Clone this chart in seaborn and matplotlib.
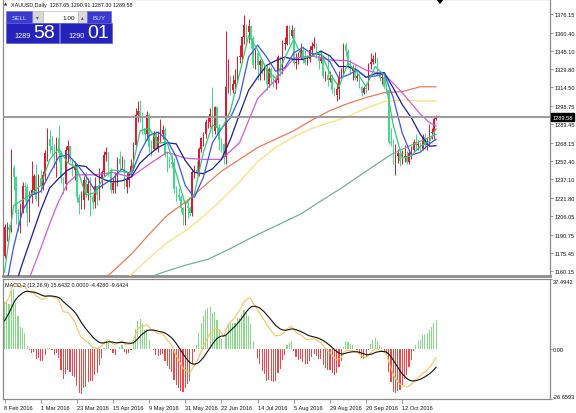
import matplotlib
matplotlib.use("Agg")
import matplotlib.pyplot as plt
import seaborn as sns
import numpy as np
import pandas as pd
from matplotlib.patches import Rectangle, Polygon

# ---------------- data ----------------
date_labels = ["8 Feb 2016", "1 Mar 2016", "23 Mar 2016", "15 Apr 2016", "9 May 2016", "31 May 2016",
               "22 Jun 2016", "14 Jul 2016", "5 Aug 2016", "29 Aug 2016", "20 Sep 2016", "12 Oct 2016"]
date_bars = [0, 16, 32, 48, 64, 80, 96, 112, 128, 144, 160, 176]

first_open = 1173.0
closes = [1197, 1197, 1195, 1247, 1239, 1209, 1208, 1211, 1232, 1231, 1209, 1223, 1228, 1240, 1221, 1238,
          1232, 1241, 1259, 1271, 1265, 1262, 1257, 1272, 1259, 1238, 1233, 1262, 1265, 1254, 1245, 1248,
          1222, 1217, 1220, 1237, 1226, 1233, 1222, 1218, 1232, 1224, 1238, 1243, 1258, 1260, 1245, 1228,
          1234, 1234, 1254, 1250, 1250, 1231, 1237, 1243, 1248, 1266, 1291, 1295, 1289, 1280, 1275, 1291,
          1264, 1263, 1276, 1263, 1273, 1275, 1279, 1258, 1254, 1252, 1250, 1229, 1224, 1222, 1213, 1207,
          1215, 1213, 1209, 1243, 1245, 1243, 1263, 1272, 1275, 1285, 1285, 1292, 1278, 1298, 1280, 1270,
          1267, 1256, 1315, 1324, 1312, 1317, 1321, 1340, 1340, 1357, 1367, 1361, 1366, 1356, 1333, 1343,
          1333, 1337, 1328, 1331, 1317, 1330, 1322, 1318, 1321, 1340, 1332, 1351, 1351, 1366, 1358, 1363,
          1335, 1336, 1340, 1346, 1338, 1335, 1338, 1346, 1349, 1351, 1341, 1337, 1340, 1324, 1325, 1321,
          1322, 1312, 1308, 1313, 1322, 1326, 1350, 1345, 1333, 1328, 1330, 1322, 1324, 1315, 1310, 1314,
          1313, 1334, 1336, 1338, 1338, 1325, 1322, 1323, 1315, 1312, 1269, 1268, 1253, 1257, 1259, 1253,
          1255, 1257, 1252, 1259, 1262, 1269, 1266, 1267, 1263, 1273, 1266, 1268, 1276, 1277, 1287.65, 1289.58]
highs = [1200, 1201, 1200, 1263, 1249, 1240, 1213, 1217, 1235, 1235, 1233, 1227, 1253, 1242, 1250, 1242,
         1245, 1244, 1262, 1280, 1279, 1274, 1267, 1273, 1283, 1261, 1239, 1265, 1270, 1265, 1254, 1253,
         1250, 1225, 1227, 1240, 1243, 1238, 1239, 1225, 1239, 1232, 1247, 1245, 1261, 1264, 1260, 1247,
         1238, 1243, 1256, 1261, 1257, 1254, 1243, 1244, 1254, 1269, 1297, 1303, 1304, 1294, 1280, 1295,
         1293, 1270, 1278, 1278, 1277, 1288, 1283, 1281, 1260, 1256, 1258, 1255, 1232, 1230, 1224, 1214,
         1218, 1219, 1215, 1246, 1249, 1253, 1264, 1273, 1277, 1288, 1290, 1297, 1315, 1299, 1299, 1284,
         1272, 1268, 1362, 1338, 1325, 1325, 1330, 1341, 1350, 1358, 1375, 1368, 1372, 1367, 1358, 1347,
         1345, 1338, 1338, 1334, 1333, 1332, 1332, 1326, 1323, 1342, 1341, 1354, 1357, 1367, 1367, 1367,
         1365, 1343, 1344, 1352, 1349, 1346, 1342, 1349, 1353, 1357, 1352, 1343, 1345, 1342, 1328, 1342,
         1328, 1326, 1315, 1318, 1328, 1331, 1352, 1352, 1347, 1338, 1333, 1333, 1327, 1327, 1316, 1316,
         1318, 1335, 1343, 1342, 1344, 1340, 1328, 1326, 1326, 1317, 1313, 1280, 1271, 1267, 1263, 1260,
         1262, 1266, 1261, 1262, 1265, 1271, 1275, 1270, 1269, 1275, 1276, 1273, 1284, 1280, 1290, 1290.91]
lows = [1171, 1185, 1186, 1193, 1228, 1200, 1194, 1192, 1209, 1219, 1198, 1201, 1217, 1225, 1219, 1215,
        1226, 1228, 1237, 1253, 1259, 1257, 1247, 1239, 1252, 1234, 1225, 1228, 1252, 1252, 1240, 1237,
        1218, 1208, 1212, 1212, 1222, 1220, 1206, 1212, 1213, 1216, 1220, 1230, 1240, 1253, 1240, 1226,
        1226, 1226, 1232, 1243, 1247, 1229, 1226, 1231, 1240, 1245, 1265, 1285, 1285, 1275, 1268, 1270,
        1260, 1257, 1263, 1262, 1260, 1268, 1271, 1256, 1243, 1247, 1247, 1226, 1219, 1220, 1210, 1199,
        1199, 1205, 1206, 1206, 1238, 1241, 1240, 1260, 1265, 1272, 1280, 1281, 1273, 1275, 1275, 1262,
        1260, 1250, 1250, 1310, 1308, 1310, 1310, 1320, 1335, 1337, 1351, 1352, 1352, 1348, 1331, 1330,
        1321, 1321, 1326, 1321, 1312, 1315, 1318, 1315, 1313, 1318, 1324, 1326, 1346, 1350, 1351, 1356,
        1333, 1330, 1334, 1338, 1335, 1333, 1333, 1336, 1342, 1348, 1339, 1330, 1335, 1322, 1320, 1316,
        1319, 1310, 1307, 1303, 1305, 1322, 1324, 1341, 1331, 1326, 1321, 1321, 1320, 1314, 1307, 1309,
        1310, 1312, 1330, 1334, 1335, 1325, 1320, 1317, 1313, 1310, 1267, 1265, 1250, 1241, 1251, 1248,
        1250, 1252, 1250, 1250, 1254, 1260, 1262, 1262, 1261, 1262, 1263, 1262, 1266, 1271, 1271, 1287.30]

# moving averages read at sample bars
ma5_bars = list(range(0, 189, 4)) + [191]
ma5 = [1159, 1215, 1220, 1225, 1232, 1254, 1263, 1251, 1247, 1224, 1226, 1239, 1245, 1244, 1242, 1278,
       1280, 1268, 1268, 1242, 1216, 1225, 1260, 1283, 1279, 1295, 1326, 1358, 1346, 1329, 1322, 1339,
       1355, 1339, 1341, 1344, 1326, 1315, 1335, 1327, 1315, 1332, 1325, 1283, 1255, 1257, 1265, 1269, 1280]
ma10 = [1140, 1180, 1211, 1224, 1227, 1242, 1256, 1258, 1250, 1240, 1228, 1233, 1238, 1246, 1241, 1260,
        1274, 1277, 1270, 1256, 1232, 1222, 1239, 1268, 1280, 1289, 1306, 1340, 1350, 1340, 1328, 1331,
        1343.5, 1348, 1343, 1342, 1336, 1322, 1325, 1329, 1323, 1324, 1326, 1306, 1276, 1257.5, 1260, 1267, 1271]
ma20 = [1116, 1143, 1167, 1189, 1211, 1230, 1238, 1245, 1249, 1248, 1241, 1237, 1235, 1236, 1239, 1251,
        1258, 1264, 1268, 1267, 1253, 1243, 1242, 1246, 1254, 1271, 1292, 1312, 1323, 1333, 1337, 1340,
        1338, 1338, 1341, 1345, 1341, 1332, 1332, 1329, 1323, 1326, 1327, 1314, 1300, 1289, 1275, 1265, 1265.5]
ma30_bars = [10, 12, 16, 20, 24, 28, 32, 40, 48, 56, 64, 72, 80, 88, 96, 104, 112, 120, 128, 136, 144,
             152, 160, 168, 172, 176, 180, 184, 188, 191]
ma30 = [1150, 1159, 1179, 1200, 1219, 1234, 1241, 1241, 1243, 1239, 1250, 1260, 1255, 1254, 1254, 1268,
        1305, 1321, 1339, 1341, 1337.5, 1337, 1329, 1325.5, 1318, 1310, 1301, 1292, 1285, 1282]
ma100_bars = [40, 48, 56, 64, 72, 80, 88, 96, 104, 112, 120, 128, 136, 144, 152, 160, 168, 176, 184, 191]
ma100 = [1146, 1160, 1174, 1191, 1207, 1218, 1231, 1244, 1254, 1264, 1271, 1278, 1287, 1295, 1301, 1306,
         1310, 1311, 1315, 1315]
ma120_bars = [48, 56, 64, 72, 80, 88, 96, 104, 112, 120, 128, 136, 144, 152, 160, 168, 176, 184, 191]
ma120 = [1144, 1157, 1171, 1184, 1194, 1206, 1220, 1235, 1252, 1264, 1273, 1280, 1285, 1290, 1297, 1302.5,
         1304, 1303, 1303]
ma200_bars = [60, 70, 80, 90, 100, 110, 120, 131, 140, 150, 160, 171, 180, 191]
ma200 = [1152, 1159, 1165, 1170, 1179, 1189, 1198, 1208, 1219, 1231, 1244, 1258, 1266, 1275]

macd = [23.4, 25.9, 27.3, 32.3, 35.2, 34.7, 33.9, 33.0, 33.7, 33.6, 31.5, 30.6, 29.9, 30.0, 28.3, 28.0,
        26.9, 26.5, 27.3, 28.6, 28.7, 28.3, 27.2, 27.4, 26.1, 23.0, 20.0, 19.8, 19.6, 18.3, 16.4, 15.0,
        11.6, 8.5, 6.2, 5.6, 4.2, 3.6, 2.2, 0.8, 0.8, 0.2, 0.8, 1.7, 3.5, 5.0, 5.0, 3.6,
        2.9, 2.3, 3.4, 3.9, 4.3, 3.1, 2.5, 2.5, 2.9, 4.6, 7.9, 10.7, 12.3, 12.7, 12.4, 13.3,
        11.8, 10.3, 10.1, 8.8, 8.4, 8.2, 8.3, 6.6, 4.9, 3.4, 1.9, -0.9, -3.5, -5.7, -8.0, -10.2,
        -11.2, -12.0, -12.8, -10.6, -8.6, -7.1, -4.2, -1.2, 1.4, 4.3, 6.5, 8.6, 9.1, 11.0, 10.9, 10.0,
        8.8, 7.0, 10.1, 13.2, 14.5, 15.8, 16.9, 19.1, 20.6, 22.9, 25.3, 26.4, 27.3, 26.9, 24.4, 23.0,
        20.9, 19.3, 17.1, 15.4, 12.8, 11.6, 9.9, 8.2, 7.0, 7.5, 7.2, 8.4, 9.1, 10.9, 11.5, 12.2,
        10.4, 9.0, 8.0, 7.7, 6.7, 5.7, 5.0, 5.1, 5.3, 5.6, 4.9, 4.0, 3.5, 1.8, 0.5, -0.9,
        -1.8, -3.3, -4.8, -5.5, -5.2, -4.7, -2.2, -0.7, -0.5, -0.7, -0.7, -1.3, -1.6, -2.6, -3.7, -4.2,
        -4.6, -3.2, -1.9, -0.7, 0.2, -0.1, -0.5, -0.8, -1.7, -2.6, -6.7, -9.9, -13.5, -15.8, -17.3, -18.8,
        -19.6, -19.8, -20.2, -19.7, -18.8, -17.4, -16.2, -15.1, -14.4, -12.9, -12.1, -11.1, -9.7, -8.3, -6.3, -4.428]
signal = [15.1, 17.2, 19.3, 21.9, 24.5, 26.6, 28.0, 29.0, 30.0, 30.7, 30.9, 30.8, 30.6, 30.5, 30.1, 29.7,
          29.1, 28.6, 28.3, 28.4, 28.4, 28.4, 28.2, 28.0, 27.6, 26.7, 25.4, 24.3, 23.3, 22.3, 21.1, 19.9,
          18.3, 16.3, 14.3, 12.5, 10.9, 9.4, 8.0, 6.5, 5.4, 4.4, 3.6, 3.3, 3.3, 3.6, 3.9, 3.9,
          3.7, 3.4, 3.4, 3.5, 3.7, 3.5, 3.3, 3.2, 3.1, 3.4, 4.3, 5.6, 6.9, 8.1, 8.9, 9.8,
          10.2, 10.2, 10.2, 9.9, 9.6, 9.3, 9.1, 8.6, 7.9, 7.0, 6.0, 4.6, 3.0, 1.2, -0.6, -2.5,
          -4.3, -5.8, -7.2, -7.9, -8.0, -7.8, -7.1, -5.9, -4.5, -2.7, -0.9, 1.0, 2.6, 4.3, 5.6, 6.5,
          7.0, 7.0, 7.6, 8.7, 9.9, 11.1, 12.2, 13.6, 15.0, 16.6, 18.3, 19.9, 21.4, 22.5, 22.9, 22.9,
          22.5, 21.9, 20.9, 19.8, 18.4, 17.1, 15.6, 14.1, 12.7, 11.7, 10.8, 10.3, 10.1, 10.2, 10.5, 10.8,
          10.7, 10.4, 9.9, 9.5, 8.9, 8.3, 7.6, 7.1, 6.8, 6.5, 6.2, 5.8, 5.3, 4.6, 3.8, 2.9,
          1.9, 0.9, -0.3, -1.3, -2.1, -2.6, -2.5, -2.2, -1.8, -1.6, -1.4, -1.4, -1.4, -1.7, -2.1, -2.5,
          -2.9, -3.0, -2.8, -2.4, -1.8, -1.5, -1.3, -1.2, -1.3, -1.6, -2.6, -4.0, -5.9, -7.9, -9.8, -11.6,
          -13.2, -14.5, -15.6, -16.5, -16.9, -17.0, -16.9, -16.5, -16.1, -15.5, -14.8, -14.0, -13.2, -12.2, -11.0, -9.6424]
hist = [25.0, 26.0, 24.2, 31.3, 32.0, 24.4, 17.6, 11.9, 11.2, 8.7, 1.9, -0.6, -2.2, -1.5, -5.3, -5.0,
        -6.6, -6.2, -3.1, 0.7, 0.8, -0.3, -2.9, -1.9, -4.6, -11.1, -16.1, -13.4, -11.2, -12.1, -14.2, -14.7,
        -19.9, -23.4, -24.2, -20.8, -20.0, -17.5, -17.3, -17.2, -13.8, -12.5, -8.5, -4.6, 0.6, 4.1, 3.3, -0.7,
        -2.3, -3.3, 0.0, 1.2, 2.0, -1.3, -2.5, -2.0, -0.6, 3.6, 10.8, 15.3, 16.1, 13.9, 10.4, 10.5,
        4.8, 0.2, -0.3, -3.4, -3.7, -3.4, -2.5, -6.1, -8.9, -10.7, -12.2, -16.5, -19.4, -20.8, -22.2, -23.0,
        -20.8, -18.6, -16.8, -8.1, -1.7, 2.2, 8.7, 14.2, 17.6, 21.0, 22.1, 22.7, 19.4, 20.1, 15.8, 10.5,
        5.5, 0.1, 7.5, 13.4, 13.9, 14.2, 14.0, 16.5, 16.8, 19.0, 20.9, 19.4, 17.7, 13.2, 4.5, 0.3,
        -4.8, -7.7, -11.5, -13.3, -16.9, -16.4, -17.2, -17.8, -17.1, -12.5, -10.7, -5.7, -2.9, 2.0, 3.1, 4.1,
        -1.0, -4.2, -5.7, -5.3, -6.7, -7.7, -7.9, -6.1, -4.4, -2.8, -3.9, -5.3, -5.4, -8.4, -9.9, -11.3,
        -11.2, -12.5, -13.6, -12.6, -9.3, -6.3, 1.0, 4.4, 4.0, 2.7, 2.2, 0.3, -0.5, -2.8, -4.9, -5.1,
        -5.0, -0.7, 2.6, 4.9, 6.1, 4.2, 2.4, 1.2, -1.2, -3.2, -12.4, -17.6, -22.7, -23.7, -22.6, -21.7,
        -19.3, -15.9, -13.7, -9.7, -5.6, -1.1, 2.0, 4.2, 5.1, 7.6, 8.0, 8.8, 10.4, 11.7, 14.2, 15.6432]

price_ticks = [1160.15, 1175.45, 1190.75, 1206.05, 1221.80, 1237.10, 1252.40, 1268.15, 1283.45,
               1298.75, 1314.50, 1329.80, 1345.10, 1360.40, 1376.15]
last_price = 1289.58
macd_max, macd_min = 37.4942, -26.6593

# ---------------- style ----------------
sns.set_theme(style="white")
plt.rcParams["font.family"] = ["Liberation Sans", "DejaVu Sans"]

W, H = 576, 414
fig = plt.figure(figsize=(W / 100, H / 100), dpi=100)
fig.patch.set_facecolor("white")

def fx(px):
    return px / W

def fy(py):
    return 1 - py / H

left_px, right_px = 3, 550
px_per_bar = 2.26
bar0_px = 4.5
xl = (-(bar0_px - left_px) / px_per_bar, (right_px - bar0_px) / px_per_bar)
ax_w = right_px - left_px

ax1 = fig.add_axes([fx(left_px), fy(277), ax_w / W, 277 / H])
ax2 = fig.add_axes([fx(left_px), fy(400), ax_w / W, 120 / H])

RED = "#E4172C"
GREEN = "#3DDB8C"
SPINE = "#8A8A8A"
LBL = 4.1

df = pd.DataFrame({"close": closes, "high": highs, "low": lows})
df["open"] = [first_open] + closes[:-1]
df["bar"] = np.arange(len(df))
up = df["close"] >= df["open"]
cols = np.where(up, RED, GREEN)

# candles
ax1.vlines(df["bar"], df["low"], df["high"], colors=cols, lw=0.7, zorder=3)
body = (df["close"] - df["open"]).abs().clip(lower=0.5)
ax1.bar(df["bar"], body, bottom=df[["open", "close"]].min(axis=1), width=0.62,
        color=cols, linewidth=0, zorder=3)

# moving averages
ma_specs = [
    (ma200_bars, ma200, "#72B09C"),
    (ma120_bars, ma120, "#F6E27C"),
    (ma100_bars, ma100, "#EF7A55"),
    (ma30_bars, ma30, "#CF5BDD"),
    (ma5_bars, ma20, "#1C1C9E"),
    (ma5_bars, ma10, "#3A56F2"),
    (ma5_bars, ma5, "#34C97A"),
]
for bars, vals, col in ma_specs:
    sns.lineplot(x=bars, y=vals, ax=ax1, color=col, linewidth=0.9, legend=False,
                 estimator=None, sort=False, zorder=5)

ax1.axhline(last_price, color="#9A9A9A", lw=1.4, zorder=6)

ax1.set_xlim(*xl)
ax1.set_ylim(1155.95, 1388.8)
ax1.set_xticks([])
ax1.yaxis.tick_right()
ax1.set_yticks(price_ticks)
ax1.set_yticklabels([f"{t:.2f}" for t in price_ticks])
ax1.tick_params(axis="y", right=True, length=2.2, width=0.6, color=SPINE, pad=0.8,
                labelsize=LBL, labelcolor="#111111")
ax1.set_xlabel("")
ax1.set_ylabel("")
for s in ["left", "right", "top"]:
    ax1.spines[s].set_color(SPINE)
    ax1.spines[s].set_linewidth(0.9)
ax1.spines["bottom"].set_color("#8C8C8C")
ax1.spines["bottom"].set_linewidth(2.0)

ax1.text(1.0 + 2.5 / ax_w, last_price, "1289.58", transform=ax1.get_yaxis_transform(),
         fontsize=LBL, color="white", va="center", ha="left", zorder=10,
         bbox=dict(boxstyle="square,pad=0.2", fc="black", ec="black"))

# MACD panel
hcol = np.where(np.array(hist) >= 0, "#86DB86", "#F0484A")
ax2.bar(np.arange(len(hist)), hist, width=0.5, color=hcol, linewidth=0, zorder=2)
sns.lineplot(x=np.arange(len(signal)), y=signal, ax=ax2, color="#111111", linewidth=0.8,
             legend=False, estimator=None, sort=False, zorder=4)
sns.lineplot(x=np.arange(len(macd)), y=macd, ax=ax2, color="#F7C45A", linewidth=0.8,
             legend=False, estimator=None, sort=False, zorder=3)
ax2.set_xlim(*xl)
ax2.set_ylim(macd_min, macd_max)
ax2.set_yticks([])
ax2.set_xticks(date_bars)
ax2.set_xticklabels(date_labels)
ax2.tick_params(axis="x", bottom=True, length=3, width=0.6, color=SPINE, pad=1.5,
                labelsize=LBL, labelcolor="#111111")
for lbl in ax2.get_xticklabels():
    lbl.set_ha("left")
ax2.set_xlabel("")
ax2.set_ylabel("")
for s in ["left", "right", "top", "bottom"]:
    ax2.spines[s].set_color(SPINE)
    ax2.spines[s].set_linewidth(0.9)

for val, txt, va in [(macd_max, "37.4942", "top"), (0.0, "0.00", "center"), (macd_min, "-26.6593", "bottom")]:
    ax2.text(1.0 + 3 / ax_w, val, txt, transform=ax2.get_yaxis_transform(), fontsize=LBL,
             color="#111111", va=va, ha="left")
    ax2.plot([1.0, 1.0 + 2.2 / ax_w], [val, val], transform=ax2.get_yaxis_transform(),
             color=SPINE, lw=0.6, clip_on=False)

fig.text(fx(5), fy(286), "MACD-2 (12,26,9) 15.6432 0.0000 -4.4280 -9.6424", fontsize=3.9,
         color="#111111", va="center", ha="left")

# header
fig.text(fx(3.5), fy(5), "▲", fontsize=3.0, color="#222222", va="center", ha="left",
         family=["DejaVu Sans"])
fig.text(fx(11), fy(5), "XAUUSD,Daily  1287.65 1290.91 1287.30 1289.58", fontsize=3.9,
         color="#111111", va="center", ha="left")
fig.add_artist(Polygon([[fx(436), fy(0)], [fx(444), fy(0)], [fx(440), fy(5)]], closed=True,
                       transform=fig.transFigure, fc="black", ec="none", zorder=20))

# one-click trading panel
def rect(x0, y0, x1, y1, fc, ec="none", lw=0.0):
    fig.add_artist(Rectangle((fx(x0), fy(y1)), (x1 - x0) / W, (y1 - y0) / H,
                             transform=fig.transFigure, fc=fc, ec=ec, lw=lw, zorder=20))

def ftext(x, y, s, size, color, ha="left", va="center"):
    fig.text(fx(x), fy(y), s, fontsize=size, color=color, ha=ha, va=va, zorder=21)

rect(6, 12, 32, 24, "#3B3BD2", "#6A6AE6", 0.5)
ftext(19, 18, "SELL", 4.6, "#D6D6FF", ha="center")
rect(32.5, 12, 43, 24, "#D9D9D9", "#B0B0B0", 0.4)
ftext(37.7, 18, "▾", 4.0, "#555555", ha="center")
rect(43, 12, 78, 24, "#FFFFFF", "#B0B0B0", 0.4)
ftext(75, 18, "1.00", 4.6, "#111111", ha="right")
rect(78, 12, 87, 24, "#D9D9D9", "#B0B0B0", 0.4)
ftext(82.5, 18, "▴", 4.0, "#555555", ha="center")
rect(87, 12, 111, 24, "#3B3BD2", "#6A6AE6", 0.5)
ftext(99, 18, "BUY", 4.6, "#D6D6FF", ha="center")
rect(6, 24, 59, 44, "#2424BC", "#5A5AE0", 0.5)
rect(60, 24, 112, 44, "#2424BC", "#5A5AE0", 0.5)
ftext(14, 37, "1289", 5.2, "white")
ftext(33, 34, "58", 14, "white")
ftext(68, 37, "1290", 5.2, "white")
ftext(87, 34, "01", 14, "white")

fig.savefig("out.png", dpi=100, facecolor="white")
